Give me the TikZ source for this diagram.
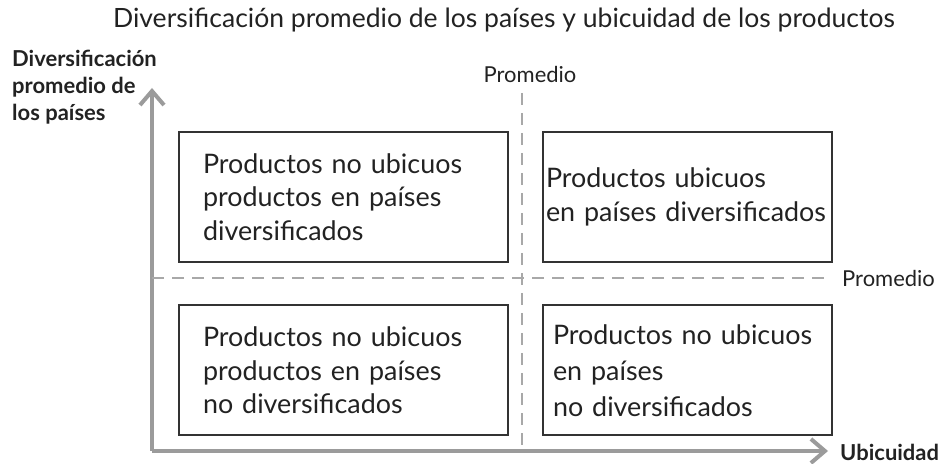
\documentclass[tikz,border=0pt]{standalone}
\usepackage{fontspec}
\setmainfont{Lato}
\usetikzlibrary{arrows.meta}

\definecolor{axisgray}{HTML}{9B9B9B}
\definecolor{dashgray}{HTML}{A8A8A8}
\definecolor{boxline}{HTML}{333333}
\definecolor{txt}{HTML}{222222}

\tikzset{
	axis/.style={line width=0.08cm, draw=axisgray, -{Straight Barb[length=0.28cm,width=0.48cm]}},
	avg/.style={line width=0.04cm, draw=dashgray, dash pattern=on 0.24cm off 0.16cm},
	quad/.style={draw=boxline, line width=0.04cm, text=txt, align=left, minimum height=2.6cm,
		font=\fontsize{15.3}{19}\selectfont},
	lbl/.style={text=txt, font=\fontsize{12.5}{15.5}\selectfont},
	axlbl/.style={text=txt, font=\fontsize{12.5}{15.5}\selectfont\bfseries, align=left}
}

\begin{document}
\begin{tikzpicture}
		
		\useasboundingbox (0,0) rectangle (18.86,9.28);
		
		\node[text=txt, font=\fontsize{15.1}{17}\selectfont] (title) at (10.08,8.88) {Diversificación promedio de los países y ubicuidad de los productos};
		
		% axes
		\coordinate (origin) at (3.04,0.26);
		\coordinate (ytip) at (3.04,7.52);
		\coordinate (xtip) at (16.56,0.26);
		\draw[axis] (origin) -- (ytip);
		\draw[axis] (origin) -- (xtip);
		
		\node[axlbl, anchor=west] (ylbl) at (0.12,7.54) {Diversificación\\promedio de\\los países};
		\node[axlbl, anchor=west] (xlbl) at (16.68,0.24) {Ubicuidad};
		
		% promedios
		\coordinate (vtop) at (10.44,7.42);
		\coordinate (vbot) at (10.44,0.26);
		\coordinate (hleft) at (3.04,3.72);
		\coordinate (hright) at (16.6,3.72);
		\draw[avg] (vtop) -- (vbot);
		\draw[avg] (hleft) -- (hright);
		
		\node[lbl] (vavg) at (10.6,7.78) {Promedio};
		\node[lbl, anchor=west] (havg) at (16.72,3.72) {Promedio};
		
		% cuadrantes
		\node[quad, text width=5.62cm, inner xsep=0.48cm] (tl) at (6.87,5.34) {Productos no ubicuos\\productos en países\\diversificados};
		\node[quad, text width=5.66cm, inner xsep=0.06cm] (tr) at (13.75,5.34) {Productos ubicuos\\en países diversificados};
		\node[quad, text width=5.62cm, inner xsep=0.48cm] (bl) at (6.87,1.87) {Productos no ubicuos\\productos en países\\no diversificados};
		\node[quad, text width=5.38cm, inner xsep=0.2cm, font=\fontsize{15.3}{20.5}\selectfont] (br) at (13.75,1.87) {Productos no ubicuos\\en países\\no diversificados};
		
	\end{tikzpicture}
\end{document}
